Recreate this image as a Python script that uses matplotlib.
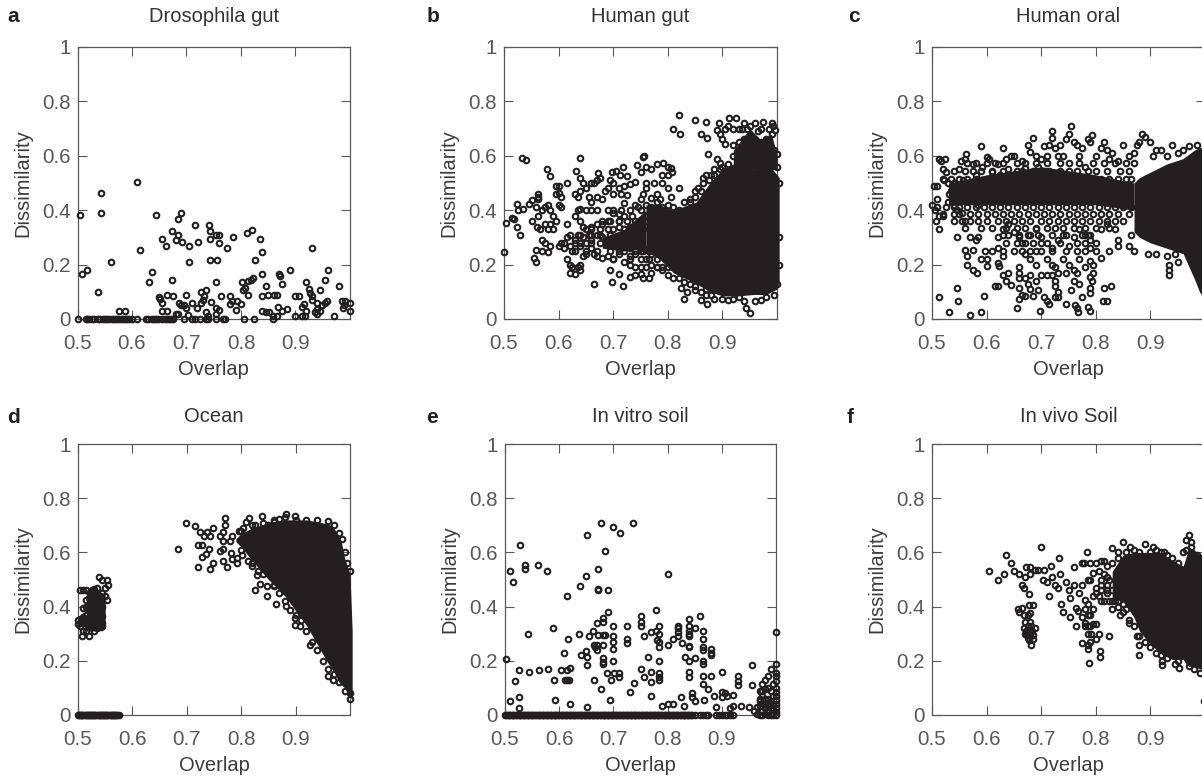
import matplotlib
matplotlib.use("Agg")
import matplotlib.pyplot as plt

plt.rcParams['font.family'] = ['Liberation Sans', 'DejaVu Sans']

# values, (overlap, dissimilarity)
# where the marks merge into solid black only the outline of the cloud is kept

dros_zero_x = [.5, .515, .518, .522, .526, .53, .538, .542, .546, .55, .554, .558, .563, .567, .571, .575, .579,
               .583, .587, .591, .595, .6, .61, .625, .63, .636, .64, .644, .648, .655, .66, .664, .668, .672, .675,
               .695, .71, .716, .725, .735, .74, .755, .767, .77, .805, .823, .858]
dros_pts = [(.505, .382), (.509, .165), (.517, .18), (.543, .464), (.543, .389), (.538, .098), (.562, .209),
            (.576, .031), (.588, .031), (.609, .503), (.614, .255), (.644, .382), (.636, .173), (.632, .135),
            (.655, .293), (.662, .269), (.674, .322), (.685, .307), (.681, .291), (.692, .284), (.685, .367),
            (.689, .39), (.704, .269), (.715, .345), (.722, .284), (.741, .345), (.744, .322), (.744, .293),
            (.755, .307), (.759, .307), (.759, .278), (.774, .262), (.785, .3), (.811, .315), (.82, .329),
            (.834, .293), (.838, .247), (.826, .218), (.744, .218), (.756, .218), (.704, .209), (.931, .262),
            (.674, .142), (.755, .135), (.838, .165), (.87, .165), (.871, .158), (.89, .18), (.96, .18), (.955, .142),
            (.98, .122), (.92, .135), (.925, .112), (.945, .105), (.846, .12), (.876, .128), (.802, .135),
            (.807, .115), (.803, .105), (.812, .14), (.818, .145), (.822, .15), (.812, .09), (.838, .083),
            (.85, .09), (.86, .09), (.866, .09), (.9, .085), (.906, .085), (.93, .085), (.926, .095),
            (.65, .08), (.652, .075), (.655, .06), (.664, .09), (.676, .083), (.7, .09), (.726, .098),
            (.735, .105), (.733, .083), (.73, .07), (.727, .06), (.745, .062), (.763, .083), (.78, .083),
            (.78, .055), (.784, .068), (.793, .068), (.8, .055), (.79, .032), (.686, .06), (.69, .05),
            (.695, .05), (.71, .06), (.7, .04), (.72, .04), (.755, .04), (.76, .032), (.655, .031), (.664, .031),
            (.735, .025), (.68, .02), (.684, .02), (.702, .015), (.74, .012), (.755, .02), (.838, .031),
            (.846, .024), (.852, .024), (.868, .045), (.876, .03), (.885, .037), (.858, .01), (.866, .012),
            (.9, .01), (.912, .01), (.918, .01), (.912, .045), (.915, .055), (.92, .03), (.935, .025),
            (.94, .038), (.945, .03), (.94, .06), (.948, .05), (.955, .06), (.957, .065), (.97, .01),
            (.985, .068), (.99, .068), (.988, .04), (.989, .05), (1.0, .06), (1.0, .03), (.93, .07), (.94, .02)]

gut_pts = [(.5, .247), (.504, .352), (.515, .373), (.518, .368), (.523, .421), (.523, .338), (.526, .399), (.53, .307),
           (.534, .404), (.533, .592), (.541, .585), (.545, .421), (.551, .436), (.551, .361), (.555, .223), (.559, .21),
           (.559, .253), (.559, .412), (.563, .46), (.563, .45), (.563, .44), (.578, .553), (.585, .526), (.56, .34),
           (.566, .33), (.57, .29), (.575, .28), (.57, .25), (.562, .38), (.57, .4), (.575, .41), (.58, .42), (.585, .4),
           (.59, .38), (.595, .36), (.59, .33), (.585, .35), (.58, .33), (.575, .35), (.585, .27), (.58, .245),
           (.595, .46), (.6, .49), (.595, .49), (.6, .465), (.605, .45), (.6, .42), (.605, .41), (.6, .27), (.605, .28),
           (.61, .26), (.615, .22), (.62, .2), (.62, .17), (.625, .19), (.63, .165), (.635, .19), (.64, .2), (.64, .18),
           (.645, .23), (.65, .24), (.615, .3), (.62, .27), (.625, .25), (.63, .29), (.635, .31), (.64, .27), (.645, .3),
           (.65, .28), (.655, .31), (.66, .29), (.615, .35), (.63, .38), (.635, .4), (.64, .405), (.65, .4), (.66, .4),
           (.67, .4), (.615, .5), (.63, .46), (.635, .45), (.64, .47), (.632, .545), (.64, .52), (.645, .5), (.64, .592),
           (.65, .48), (.655, .45), (.66, .43), (.665, .5), (.66, .5), (.67, .51), (.672, .535), (.675, .52), (.67, .45),
           (.68, .44), (.69, .48), (.685, .47), (.695, .51), (.697, .54), (.705, .545), (.713, .53), (.718, .56),
           (.725, .525), (.72, .49), (.73, .495), (.74, .505), (.743, .565), (.75, .54), (.76, .5), (.755, .595),
           (.757, .6), (.76, .56), (.77, .55), (.775, .5), (.78, .57), (.79, .5), (.792, .575), (.8, .56), (.805, .555),
           (.8, .53), (.807, .54), (.79, .53), (.7, .5), (.71, .48), (.715, .46), (.725, .455), (.72, .425), (.7, .46),
           (.69, .4), (.7, .39), (.71, .385), (.67, .35), (.68, .35), (.69, .36), (.64, .36), (.645, .34), (.65, .33),
           (.66, .34), (.67, .31), (.68, .3), (.69, .28), (.7, .29), (.66, .26), (.665, .24), (.67, .23), (.68, .225),
           (.69, .23), (.7, .22), (.71, .24), (.72, .21), (.73, .2), (.74, .19), (.75, .19), (.695, .18), (.71, .165),
           (.665, .128), (.697, .135), (.718, .12), (.73, .155), (.74, .16), (.75, .165), (.755, .15), (.765, .15),
           (.77, .17), (.74, .42), (.75, .44), (.755, .46), (.76, .48), (.77, .445), (.78, .46), (.8, .48), (.82, .48),
           (.805, .45), (.785, .44), (.71, .34), (.72, .33), (.73, .34), (.73, .3), (.72, .28), (.71, .3), (.71, .36),
           (.72, .38), (.735, .38), (.745, .41), (.705, .27), (.72, .25), (.73, .26), (.745, .28), (.75, .3),
           (.81, .7), (.82, .75), (.822, .68), (.849, .733), (.87, .725), (.86, .68), (.872, .665), (.874, .605),
           (.893, .72), (.89, .695), (.895, .68), (.9, .66), (.905, .645), (.91, .71), (.905, .7), (.913, .74),
           (.925, .74), (.92, .7), (.93, .7), (.935, .7), (.94, .72), (.945, .7), (.95, .71), (.96, .72), (.965, .69),
           (.97, .7), (.975, .725), (.985, .7), (.99, .72), (.993, .71), (.997, .695), (.92, .64), (.93, .65),
           (.94, .66), (.95, .65), (.96, .64), (.97, .65), (.98, .66), (.99, .68), (.92, .6), (.93, .61), (.94, .6),
           (.95, .62), (.96, .6), (.965, .62), (.975, .62), (.985, .63), (.995, .62), (1.0, .605), (.89, .59),
           (.895, .575), (.885, .55), (.88, .53), (.87, .53), (.865, .52), (.85, .47), (.855, .48), (.84, .43),
           (.83, .135), (.825, .115), (.83, .075), (.835, .1), (.85, .105), (.86, .07), (.87, .09), (.872, .055),
           (.885, .075), (.9, .075), (.91, .07), (.92, .075), (.93, .08), (.94, .065), (.943, .04), (.95, .023),
           (.96, .067), (.97, .07), (.98, .08), (.995, .09)]
gut_edge_pts = [(.78, .43), (.79, .41), (.8, .42), (.81, .41), (.82, .4), (.83, .43), (.84, .44), (.85, .45), (.86, .47),
                (.865, .5), (.875, .51), (.885, .53), (.895, .55), (.9, .56), (.91, .57), (.93, .59), (.95, .57),
                (.97, .57), (.99, .57), (1.0, .56), (1.003, .5), (.77, .2), (.78, .19), (.79, .18), (.8, .16), (.81, .15),
                (.82, .15), (.83, .17), (.84, .13), (.85, .12), (.86, .1), (.87, .11), (.88, .09), (1.003, .3),
                (1.003, .2), (1.0, .13), (.77, .33), (.76, .38), (.75, .35), (.76, .22), (.755, .26), (.765, .25),
                (.74, .33), (.75, .25), (.74, .24), (.73, .23), (.76, .42), (.77, .41), (.77, .24)]
gut_rows = [(.4, [.7, .715, .73, .75]),
            (.36, [.68, .695, .71, .725, .74, .75, .76]),
            (.33, [.66, .675, .69, .7, .72, .74, .755]),
            (.31, [.62, .64, .66, .675, .695, .735, .75]),
            (.28, [.61, .63, .64, .66, .675]),
            (.25, [.63, .65, .67, .695, .71, .74, .755]),
            (.22, [.7, .73, .75, .765, .78]),
            (.19, [.76, .78, .79, .8])]
gut_cloud_x = [.76, .785, .81, .852, .877, .9, .93, .956, .98, 1.0, 1.004]
gut_cloud_low = [.25, .22, .17, .13, .1, .085, .085, .09, .09, .11, .14]
gut_cloud_high = [.42, .42, .4, .43, .5, .55, .58, .55, .58, .53, .52]
gut_core_x = [.68, .72, .76]
gut_core_low = [.26, .25, .26]
gut_core_high = [.3, .33, .4]
gut_top_x = [.92, .95, .97, .99, 1.0]
gut_top_low = [.55, .55, .55, .55, .55]
gut_top_high = [.62, .7, .66, .68, .6]

oral_pts = [(.5, .42), (.503, .49), (.505, .4), (.508, .36), (.51, .44), (.51, .49), (.512, .33), (.512, .59), (.513, .38),
            (.517, .58), (.52, .55), (.52, .38), (.522, .51), (.524, .59), (.526, .54), (.53, .5), (.53, .43), (.532, .46),
            (.535, .47), (.54, .5), (.54, .42), (.545, .4), (.55, .55), (.553, .58), (.556, .51), (.56, .59), (.562, .605),
            (.555, .39), (.56, .36), (.565, .44), (.57, .48), (.575, .57), (.58, .53), (.585, .42), (.59, .635), (.592, .56),
            (.595, .5), (.6, .595), (.605, .59), (.61, .54), (.615, .47), (.62, .57), (.625, .53), (.63, .44), (.63, .63),
            (.635, .59), (.64, .55), (.645, .6), (.65, .6), (.655, .52), (.66, .47), (.665, .58), (.67, .555), (.675, .64),
            (.68, .615), (.685, .665), (.69, .6), (.695, .56), (.7, .59), (.705, .635), (.71, .6), (.715, .64), (.72, .69),
            (.72, .665), (.725, .63), (.73, .6), (.735, .64), (.74, .6), (.745, .66), (.75, .68), (.755, .71), (.76, .65),
            (.765, .64), (.77, .6), (.775, .63), (.78, .56), (.785, .66), (.79, .65), (.793, .675), (.8, .6), (.81, .63),
            (.815, .65), (.82, .62), (.825, .59), (.83, .61), (.84, .58), (.85, .64), (.86, .6), (.87, .61), (.875, .64),
            (.88, .65), (.885, .68), (.89, .67), (.9, .65), (.905, .6), (.91, .62), (.92, .62), (.93, .6), (.94, .64),
            (.95, .61), (.96, .62), (.97, .635), (.985, .64),
            (.545, .3), (.57, .3), (.58, .29), (.585, .3), (.575, .255), (.56, .255), (.565, .23), (.565, .2), (.575, .18),
            (.582, .17), (.59, .22), (.6, .22), (.597, .25), (.6, .195), (.61, .25), (.62, .26), (.62, .3), (.63, .33),
            (.64, .35), (.65, .32), (.66, .3), (.67, .28), (.68, .31), (.69, .33), (.7, .3), (.71, .28), (.72, .26),
            (.73, .29), (.74, .31), (.75, .27), (.76, .3), (.77, .33), (.78, .31), (.79, .29), (.8, .28), (.81, .33),
            (.82, .35), (.835, .33), (.84, .29), (.84, .27), (.825, .25), (.81, .225), (.8, .25), (.79, .26),
            (.62, .205), (.622, .195), (.63, .23), (.64, .17), (.63, .16), (.635, .14), (.645, .125), (.615, .12),
            (.66, .19), (.66, .17), (.67, .15), (.66, .15), (.66, .115), (.67, .24), (.68, .22), (.69, .2), (.7, .25),
            (.71, .22), (.72, .2), (.73, .17), (.74, .22), (.75, .2), (.76, .18), (.77, .22), (.78, .19), (.79, .215),
            (.795, .2), (.795, .17), (.79, .155), (.793, .14), (.79, .115), (.79, .095), (.765, .17), (.76, .14),
            (.755, .105), (.77, .13), (.745, .17), (.725, .19), (.725, .14), (.72, .16), (.71, .16), (.7, .16),
            (.69, .14), (.68, .16), (.675, .13), (.68, .11), (.67, .085), (.665, .09), (.66, .075), (.685, .085),
            (.695, .105), (.705, .08), (.71, .065), (.715, .055), (.725, .08), (.73, .08), (.725, .12), (.73, .1),
            (.745, .055), (.762, .05), (.765, .04), (.768, .025), (.775, .08), (.785, .045), (.79, .03), (.655, .04),
            (.697, .03), (.813, .065), (.82, .065), (.815, .115), (.828, .12), (.545, .115), (.548, .068), (.512, .082),
            (.531, .024), (.569, .016), (.59, .025), (.596, .083), (.62, .122), (.86, .27), (.87, .25), (.865, .31),
            (.896, .24), (.91, .24), (.93, .23), (.934, .2), (.934, .18), (.934, .16), (.95, .21), (.945, .24)]
oral_rows = [(.575, [.565, .58, .6, .615, .63, .655, .67, .69, .71, .735, .75, .77, .795, .815, .835, .855, .87]),
             (.545, [.54, .56, .575, .59, .61, .63, .655, .665, .685, .7, .715, .735, .75, .765, .785, .8, .82, .845, .86]),
             (.515, [.52, .535, .55, .565, .58, .6, .625, .81, .825, .84, .855, .865]),
             (.41, [.51, .525, .54, .55, .565, .58, .595, .61, .625, .64, .655, .67, .685, .7, .715, .73, .745, .76, .775,
                    .79, .805, .82, .835, .85, .865]),
             (.385, [.52, .54, .55, .57, .585, .6, .615, .63, .645, .66, .675, .69, .705, .72, .735, .75, .765, .78, .795,
                     .81, .825, .84, .86]),
             (.36, [.54, .555, .57, .585, .6, .62, .635, .65, .665, .68, .7, .715, .73, .745, .76, .775, .79, .805, .82,
                    .835, .85]),
             (.335, [.56, .59, .61, .635, .655, .67, .69, .71, .725, .74, .76, .78, .8, .825]),
             (.31, [.63, .64, .66, .675, .695, .72, .745, .775, .785, .79]),
             (.28, [.635, .655, .665, .685, .7, .735, .765, .78]),
             (.25, [.63, .65, .665, .68, .69, .72, .745, .765, .78])]
oral_cloud_x = [.87, .88, .9, .93, .96, .98, .99, 1.0, 1.01]
oral_cloud_low = [.32, .3, .28, .26, .24, .15, .1, .07, .06]
oral_cloud_high = [.5, .52, .54, .57, .59, .62, .63, .63, .63]
oral_core_x = [.53, .6, .7, .8, .87]
oral_core_low = [.42, .42, .42, .42, .4]
oral_core_high = [.5, .53, .56, .53, .5]

ocean_zero_x = [.5, .502, .504, .506, .508, .51, .512, .514, .516, .518, .52, .522, .524, .526, .528, .53, .532, .534, .536,
                .538, .54, .542, .544, .546, .548, .55, .552, .554, .556, .558, .56, .562, .564, .566, .568, .57, .572, .575]
ocean_left_pts = [(.503, .46), (.51, .46), (.515, .46), (.525, .46), (.53, .465), (.535, .47), (.538, .51), (.545, .5),
                  (.553, .5), (.555, .48), (.55, .47), (.55, .44), (.553, .425), (.545, .45), (.54, .44), (.53, .44),
                  (.52, .43), (.515, .425), (.51, .395), (.515, .4), (.52, .39), (.53, .41), (.54, .41), (.545, .4),
                  (.54, .38), (.535, .37), (.545, .365), (.525, .37), (.515, .37), (.505, .355), (.5, .35), (.5, .335),
                  (.503, .33), (.51, .34), (.51, .36), (.52, .35), (.53, .35), (.54, .35), (.545, .34), (.542, .325),
                  (.535, .32), (.53, .31), (.525, .33), (.518, .33), (.51, .31), (.508, .29), (.52, .29), (.514, .31),
                  (.545, .33), (.535, .335), (.505, .345), (.515, .35), (.525, .35), (.535, .39), (.525, .41), (.545, .42)]
ocean_pts = [(.683, .612), (.699, .71), (.715, .696), (.725, .675), (.737, .675), (.732, .659), (.742, .659), (.748, .691),
             (.771, .727), (.771, .702), (.766, .675), (.761, .659), (.767, .643), (.78, .643), (.783, .659), (.72, .627),
             (.728, .627), (.741, .614), (.736, .594), (.728, .583), (.721, .546), (.748, .561), (.743, .537), (.767, .569),
             (.774, .546), (.761, .604), (.766, .614), (.781, .598), (.784, .577), (.793, .561), (.792, .579), (.801, .589),
             (.796, .68), (.804, .69), (.808, .711), (.815, .727), (.838, .734), (.883, .742), (.898, .735), (.826, .702),
             (.86, .711), (.813, .567), (.826, .462), (.834, .485), (.848, .44), (.864, .41), (.879, .456), (.882, .403),
             (.89, .389), (.898, .358), (.898, .333), (.909, .327), (.927, .26), (.96, .145), (.968, .13), (.829, .518),
             (.847, .475), (.86, .475), (.82, .55), (.83, .53), (.85, .7), (.87, .725), (.92, .72), (.96, .715),
             (.8, .68), (.82, .7), (.84, .71), (.86, .72), (.88, .73), (.9, .72), (.94, .72), (.97, .7), (.98, .67),
             (.985, .65), (.99, .6), (.995, .56), (1.0, .53), (.8, .61), (.82, .56), (.84, .52), (.86, .48), (.87, .45),
             (.88, .42), (.9, .37), (.91, .35), (.92, .31), (.93, .27), (.94, .24), (.95, .2), (.96, .17), (.97, .15),
             (.98, .12), (.99, .09), (1.0, .06), (1.0, .08)]
ocean_cloud_x = [.79, .8, .82, .85, .88, .92, .96, .97, .98, .985, .99, 1.0, 1.004]
ocean_cloud_low = [.64, .62, .57, .5, .44, .33, .19, .16, .12, .11, .1, .065, .06]
ocean_cloud_high = [.65, .67, .69, .71, .72, .72, .705, .69, .66, .63, .58, .52, .31]
ocean_left_x = [.515, .53, .55]
ocean_left_low = [.31, .31, .32]
ocean_left_high = [.46, .47, .44]
ocean_nub_x = [.5, .515]
ocean_nub_low = [.33, .33]
ocean_nub_high = [.365, .365]

soil_zero_x = [.5, .505, .51, .515, .52, .525, .53, .535, .54, .545, .55, .555, .56, .565, .57, .575, .58, .585, .59, .595,
               .6, .605, .61, .615, .62, .625, .63, .635, .64, .645, .65, .655, .66, .665, .67, .675, .68, .685, .69, .695,
               .7, .705, .71, .715, .72, .725, .73, .735, .74, .745, .75, .755, .76, .765, .77, .775, .78, .785, .79, .795,
               .8, .805, .81, .815, .82, .825, .83, .835, .84, .845, .86, .87, .89, .9, .91, .92, .97, .975,
               .5025, .5075, .5125, .5175, .5225, .5275, .5325, .5375, .5425, .5475, .5525, .5575, .5625, .5675, .5725,
               .5775, .5825, .5875, .5925, .5975, .6025, .6075, .6125, .6175, .6225, .6275, .6325, .6375, .6425, .6475,
               .6525, .6575, .6625, .6675, .6725, .6775, .6825, .6875, .6925, .6975, .7025, .7075, .7125, .7175, .7225,
               .7275, .7325, .7375, .7425, .7475, .7525, .7575, .7625, .7675, .7725, .7775, .7825, .7875, .7925, .7975,
               .8025, .8075, .8125, .8175, .8225, .8275, .8325, .8375, .8425, .85, .865, .875, .895, .905, .915]
soil_pts = [(.502, .205), (.51, .53), (.514, .49), (.518, .125), (.51, .05), (.525, .165), (.525, .065), (.525, .025),
            (.528, .627), (.536, .553), (.536, .538), (.543, .298), (.544, .16), (.56, .553), (.562, .165), (.578, .53),
            (.58, .17), (.588, .32), (.59, .13), (.592, .055), (.604, .165), (.608, .23), (.615, .44), (.615, .165),
            (.61, .13), (.615, .13), (.618, .13), (.616, .28), (.62, .175), (.62, .04), (.636, .298), (.638, .477),
            (.64, .22), (.65, .513), (.65, .235), (.652, .215), (.652, .665), (.652, .185), (.652, .03), (.655, .29),
            (.662, .31), (.665, .13), (.664, .26), (.666, .25), (.67, .24), (.67, .26), (.672, .538), (.672, .466),
            (.672, .46), (.67, .34), (.672, .295), (.677, .71), (.677, .095), (.68, .357), (.68, .343), (.68, .295),
            (.68, .26), (.68, .21), (.68, .195), (.68, .19), (.684, .605), (.685, .295), (.688, .155), (.69, .46),
            (.69, .38), (.695, .13), (.694, .055), (.7, .695), (.701, .155), (.7, .33), (.7, .29), (.7, .27), (.7, .245),
            (.7, .2), (.71, .155), (.71, .14), (.712, .67), (.725, .33), (.725, .28), (.725, .265), (.73, .085),
            (.737, .71), (.738, .118), (.75, .365), (.75, .345), (.75, .33), (.75, .17), (.757, .14), (.757, .29),
            (.763, .215), (.77, .305), (.77, .16), (.77, .12), (.77, .07), (.778, .31), (.778, .387), (.78, .275),
            (.785, .33), (.785, .3), (.785, .27), (.785, .25), (.785, .2), (.785, .155), (.785, .14), (.785, .13),
            (.79, .035), (.8, .04), (.8, .52), (.8, .26), (.81, .28), (.81, .04), (.82, .33), (.82, .32), (.82, .305),
            (.82, .29), (.825, .065), (.826, .265), (.83, .035), (.833, .215), (.84, .355), (.84, .33), (.84, .31),
            (.84, .3), (.84, .29), (.84, .255), (.84, .25), (.84, .2), (.84, .16), (.84, .14), (.845, .08), (.845, .065),
            (.85, .32), (.85, .21), (.85, .05), (.86, .365), (.865, .31), (.865, .28), (.865, .25), (.865, .24),
            (.865, .2), (.865, .19), (.865, .145), (.865, .115), (.867, .055), (.875, .095), (.88, .145), (.88, .245),
            (.88, .23), (.88, .22), (.885, .07), (.9, .16), (.9, .065), (.89, .03), (.9, .085), (.91, .07), (.905, .08),
            (.92, .075), (.92, .035), (.915, .025), (.93, .145), (.93, .125), (.93, .11), (.935, .035), (.95, .03),
            (.955, .11), (.956, .185), (.97, .05), (.975, .115), (.98, .13), (.985, .145), (.99, .17), (1.0, .305),
            (1.0, .19), (1.0, .155), (1.0, .145), (1.0, .125), (1.0, .1), (1.0, .085), (1.0, .07), (1.0, .055), (1.0, .04),
            (1.0, .025), (1.0, .01), (1.0, 0), (.995, .115), (.99, .09), (.985, .1), (.98, .095), (.975, .09), (.97, .09),
            (.975, .07), (.97, .06), (.975, .045), (.97, .035), (.98, .025), (.975, .015), (.985, .06), (.985, .035),
            (.985, .015), (.99, .05), (.99, .025), (.99, .005), (.995, .07), (.995, .04), (.995, .02), (.98, .06),
            (.98, .04), (.98, .005), (.965, .03), (.96, .015), (.965, .005), (.985, 0), (.99, 0), (.995, 0)]

vivo_pts = [(.605, .53), (.62, .5), (.632, .52), (.635, .59), (.645, .56), (.65, .53), (.66, .52), (.665, .48), (.668, .47),
            (.67, .51), (.672, .545), (.68, .545), (.68, .52), (.665, .395), (.658, .39), (.66, .38), (.668, .37),
            (.675, .37), (.68, .375), (.678, .445), (.678, .405), (.685, .405), (.67, .345), (.68, .345), (.668, .32),
            (.672, .31), (.676, .3), (.68, .29), (.684, .31), (.688, .32), (.682, .33), (.676, .33), (.67, .3), (.678, .275),
            (.682, .26), (.685, .28), (.675, .285), (.672, .3), (.68, .305), (.685, .295), (.678, .315), (.688, .535),
            (.695, .535), (.7, .62), (.703, .5), (.705, .535), (.71, .49), (.715, .44), (.718, .55), (.72, .51), (.725, .48),
            (.73, .47), (.732, .58), (.735, .52), (.737, .41), (.74, .38), (.745, .49), (.75, .46), (.752, .36), (.752, .43),
            (.76, .48), (.76, .545), (.763, .33), (.763, .395), (.768, .385), (.77, .45), (.775, .56), (.778, .56),
            (.775, .48), (.78, .425), (.78, .39), (.775, .36), (.78, .34), (.785, .41), (.783, .6), (.785, .5), (.79, .56),
            (.79, .5), (.795, .44), (.795, .39), (.79, .37), (.785, .37), (.78, .33), (.785, .33), (.79, .33), (.795, .335),
            (.8, .335), (.785, .3), (.792, .3), (.775, .265), (.785, .26), (.785, .245), (.79, .27), (.8, .28), (.805, .3),
            (.787, .192), (.807, .215), (.807, .235), (.8, .56), (.795, .525), (.805, .53), (.81, .57), (.815, .57),
            (.81, .46), (.815, .42), (.82, .45), (.83, .39), (.83, .615), (.825, .29), (.845, .37), (.85, .64), (.86, .34),
            (.862, .62), (.875, .29), (.88, .26), (.88, .22), (.89, .63), (.905, .62), (.92, .6), (.925, .6), (.922, .185),
            (.922, .2), (.945, .19), (.953, .175), (.965, .645), (.97, .665), (.975, .64), (.99, .155), (.9985, .05),
            (.84, .6), (.86, .35), (.865, .56), (.82, .55), (.83, .56), (.84, .58), (.855, .6), (.87, .61), (.88, .6),
            (.9, .6), (.91, .61), (.93, .59), (.94, .58), (.95, .56), (.96, .6), (.965, .61), (.975, .62), (.985, .59),
            (.99, .58), (.82, .48), (.825, .42), (.84, .42), (.85, .38), (.87, .33), (.88, .29), (.89, .27), (.9, .25),
            (.91, .23), (.92, .22), (.93, .21), (.95, .2), (.97, .18), (.98, .17), (1.0, .165),
            (.81, .5), (.815, .52), (.82, .51), (.825, .5), (.81, .48), (.82, .46), (.83, .46), (.835, .42), (.84, .4),
            (.83, .42), (.85, .41), (.855, .39), (.8, .47), (.805, .44), (.8, .45), (.81, .42)]
vivo_cloud_x = [.83, .85, .87, .88, .9, .92, .94, .96, .965, .97, .98, .99, 1.0, 1.01]
vivo_cloud_low = [.43, .42, .36, .31, .26, .225, .205, .205, .19, .18, .18, .17, .17, .17]
vivo_cloud_high = [.53, .59, .6, .6, .6, .6, .57, .55, .58, .62, .61, .59, .58, .58]

yticks = [0, .2, .4, .6, .8, 1]
ytick_labels = ['0', '0.2', '0.4', '0.6', '0.8', '1']
xticks = [.5, .6, .7, .8, .9]

FIG_W, FIG_H = 1202, 777
DARK = '#231f20'
GRAY = '#585858'


def rows_to_pts(rows):
    return [(x, y) for y, row in rows for x in row]


def draw_panel(left, top, width, height, title, title_pad, letter, letter_xy, pts, zero_x=None, clouds=()):
    ax = fig.add_axes([left / FIG_W, 1 - (top + height) / FIG_H, width / FIG_W, height / FIG_H])
    for cx, clow, chigh in clouds:
        ax.fill_between(cx, clow, chigh, color=DARK, lw=0, clip_on=False, zorder=3)
    xs = [p[0] for p in pts]
    ys = [p[1] for p in pts]
    if zero_x:
        xs += zero_x
        ys += [0] * len(zero_x)
    ax.plot(xs, ys, 'o', ms=4.0, mfc='none', mec=DARK, mew=1.5, clip_on=False, zorder=4)
    ax.set_xlim(.5, 1)
    ax.set_ylim(0, 1)
    ax.set_xticks(xticks)
    ax.set_xticklabels(['0.5', '0.6', '0.7', '0.8', '0.9'])
    ax.set_yticks(yticks)
    ax.set_yticklabels(ytick_labels)
    ax.tick_params(direction='in', top=True, right=True, length=6.5, width=.8, color=GRAY,
                   labelcolor=GRAY, labelsize=14.8)
    ax.tick_params(axis='x', pad=10.5)
    ax.tick_params(axis='y', pad=5)
    for s in ax.spines.values():
        s.set_color(GRAY)
        s.set_linewidth(.9)
    ax.set_xlabel('Overlap', fontsize=14.5, color='#3c3c3c', labelpad=5)
    ax.set_ylabel('Dissimilarity', fontsize=14.5, color='#3c3c3c', va='center')
    ax.yaxis.set_label_coords(-55 / width, .5)
    ax.set_title(title, fontsize=14.5, color='#333333', pad=title_pad)
    fig.text(letter_xy[0] / FIG_W, 1 - letter_xy[1] / FIG_H, letter, fontsize=15, fontweight='bold',
             color=DARK, ha='center', va='center')
    return ax


fig = plt.figure(figsize=(FIG_W / 100, FIG_H / 100), dpi=100)

draw_panel(77.5, 47, 272.5, 272, 'Drosophila gut', 18, 'a', (13, 17), dros_pts, zero_x=dros_zero_x)
draw_panel(504, 47, 273, 272, 'Human gut', 18, 'b', (433, 17), gut_pts + gut_edge_pts + rows_to_pts(gut_rows),
           clouds=[(gut_cloud_x, gut_cloud_low, gut_cloud_high), (gut_core_x, gut_core_low, gut_core_high),
                   (gut_top_x, gut_top_low, gut_top_high)])
draw_panel(932, 47, 273, 272, 'Human oral', 18, 'c', (854, 17), oral_pts + rows_to_pts(oral_rows),
           clouds=[(oral_cloud_x, oral_cloud_low, oral_cloud_high), (oral_core_x, oral_core_low, oral_core_high)])
draw_panel(78, 444, 272, 271, 'Ocean', 16, 'd', (13, 418), ocean_pts + ocean_left_pts, zero_x=ocean_zero_x,
           clouds=[(ocean_cloud_x, ocean_cloud_low, ocean_cloud_high), (ocean_left_x, ocean_left_low, ocean_left_high),
                   (ocean_nub_x, ocean_nub_low, ocean_nub_high)])
draw_panel(505, 444, 271, 271, 'In vitro soil', 16, 'e', (432, 418), soil_pts, zero_x=soil_zero_x)
draw_panel(932, 444, 273, 271, 'In vivo Soil', 16, 'f', (850, 418), vivo_pts,
           clouds=[(vivo_cloud_x, vivo_cloud_low, vivo_cloud_high)])

fig.savefig('out.png', dpi=100)
